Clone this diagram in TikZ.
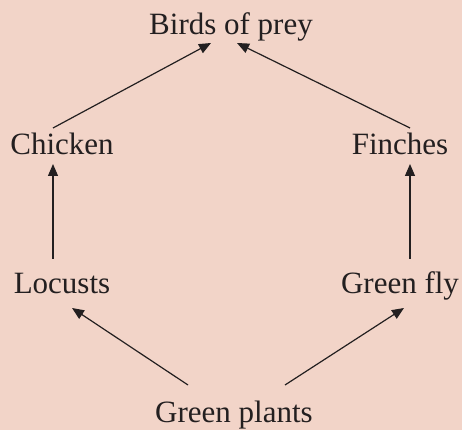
\documentclass[tikz,border=0pt]{standalone}
\usepackage{fontspec}
\setmainfont{Liberation Serif}
\usetikzlibrary{arrows.meta}
\definecolor{bg}{HTML}{F2D4C8}
\definecolor{ink}{HTML}{231F20}
\begin{document}
\begin{tikzpicture}[x=1pt,y=1pt,
  lbl/.style={anchor=base,inner sep=0pt,text=ink,font=\fontsize{31}{36}\selectfont},
  conn/.style={draw=ink,line width=1.2pt,-{Triangle[length=12pt,width=10pt]}}]
\fill[bg] (0,0) rectangle (462,430);
\useasboundingbox (0,0) rectangle (462,430);
\node[lbl] (bop) at (231,395) {Birds of prey};
\node[lbl] (chk) at (62,275) {Chicken};
\node[lbl] (fin) at (400,275) {Finches};
\node[lbl] (loc) at (62,136) {Locusts};
\node[lbl] (gfl) at (400,136) {Green fly};
\node[lbl] (gpl) at (234,8) {Green plants};
\draw[conn] ([shift={(-9,27)}]chk.base) -- ([shift={(-20,-8)}]bop.base);
\draw[conn] ([shift={(10,27)}]fin.base) -- ([shift={(6,-8)}]bop.base);
\draw[conn] ([shift={(-9,35)}]loc.base) -- ([shift={(-9,-9)}]chk.base);
\draw[conn] ([shift={(10,35)}]gfl.base) -- ([shift={(10,-9)}]fin.base);
\draw[conn] ([shift={(-46,37)}]gpl.base) -- ([shift={(10,-14)}]loc.base);
\draw[conn] ([shift={(51,37)}]gpl.base) -- ([shift={(4,-14)}]gfl.base);
\end{tikzpicture}
\end{document}
